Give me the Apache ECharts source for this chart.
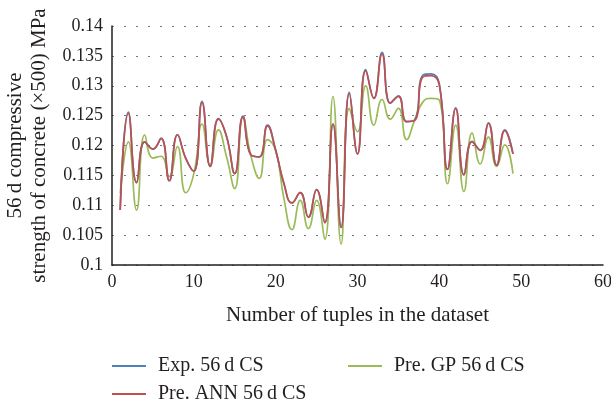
<!DOCTYPE html>
<html>
<head>
<meta charset="utf-8">
<script src="https://cdn.jsdelivr.net/npm/echarts@6/dist/echarts.min.js"></script>
<style>
  html, body { margin: 0; padding: 0; background: #fff; }
  #chart { width: 611px; height: 402px; }
</style>
</head>
<body>
<div id="chart"></div>
<script>
// tuple number (x) for every point
var tuples = [1, 2, 3, 4, 5, 6, 7, 8, 9, 10, 11, 12, 13, 14, 15, 16, 17, 18, 19, 20,
  21, 22, 23, 24, 25, 26, 27, 28, 29, 30, 31, 32, 33, 34, 35, 36, 37, 38, 39, 40,
  41, 42, 43, 44, 45, 46, 47, 48, 49];

// experimental 56 d CS
var expCS = [0.1092, 0.1256, 0.1138, 0.1206, 0.1194, 0.1212, 0.1141, 0.1218, 0.1179, 0.1157,
  0.1274, 0.1165, 0.1245, 0.1215, 0.1153, 0.1249, 0.1184, 0.1181, 0.1234, 0.1192,
  0.1137, 0.1104, 0.1121, 0.1080, 0.1126, 0.1071, 0.1236, 0.1063, 0.1289, 0.1186,
  0.1327, 0.1279, 0.1356, 0.1271, 0.1283, 0.1240, 0.1243, 0.1318, 0.1320, 0.1303,
  0.1160, 0.1263, 0.1151, 0.1207, 0.1192, 0.1238, 0.1167, 0.1226, 0.1186];

// ANN prediction
var annCS = [0.1092, 0.1254, 0.1138, 0.1206, 0.1194, 0.1212, 0.1141, 0.1218, 0.1179, 0.1157,
  0.1272, 0.1165, 0.1244, 0.1215, 0.1153, 0.1248, 0.1184, 0.1181, 0.1233, 0.1192,
  0.1137, 0.1104, 0.1121, 0.1080, 0.1126, 0.1071, 0.1236, 0.1063, 0.1287, 0.1186,
  0.1325, 0.1279, 0.1353, 0.1271, 0.1282, 0.1240, 0.1242, 0.1315, 0.1317, 0.1301,
  0.1160, 0.1262, 0.1151, 0.1206, 0.1192, 0.1237, 0.1167, 0.1225, 0.1186];

// GP prediction
var gpCS = [0.1120, 0.1206, 0.1092, 0.1218, 0.1179, 0.1182, 0.1148, 0.1198, 0.1121, 0.1153,
  0.1236, 0.1167, 0.1226, 0.1181, 0.1128, 0.1247, 0.1181, 0.1145, 0.1210, 0.1192,
  0.1112, 0.1059, 0.1108, 0.1061, 0.1108, 0.1043, 0.1282, 0.1035, 0.1262, 0.1223,
  0.1300, 0.1234, 0.1277, 0.1244, 0.1262, 0.1210, 0.1243, 0.1273, 0.1279, 0.1276,
  0.1136, 0.1234, 0.1123, 0.1221, 0.1169, 0.1214, 0.1165, 0.1201, 0.1153];

var yTicks = ['0.1', '0.105', '0.11', '0.115', '0.12', '0.125', '0.13', '0.135', '0.14'];

function pairs(vals) {
  return tuples.map(function (t, i) { return [t, vals[i]]; });
}

var font = '"Liberation Serif", "DejaVu Serif", serif';
var ink = '#231f20';
var chart = echarts.init(document.getElementById('chart'), null, { renderer: 'canvas' });

var lineSeries = function (name, vals, color, z) {
  return {
    name: name,
    type: 'line',
    data: pairs(vals),
    smooth: 0.5,
    showSymbol: false,
    symbol: 'none',
    z: z,
    lineStyle: { color: color, width: 1.7 },
    itemStyle: { color: color },
    animation: false
  };
};

// one legend box per entry, so the two columns line up like the original
var legendItem = function (name, left, top) {
  return {
    data: [name],
    left: left, top: top, padding: 0,
    icon: 'rect', itemWidth: 34, itemHeight: 2,
    textStyle: { fontFamily: font, fontSize: 20, color: ink, padding: [0, 0, 0, 7] }
  };
};

var option = {
  animation: false,
  textStyle: { fontFamily: font },
  grid: { left: 112, right: 8, top: 26, bottom: 137, containLabel: false, outerBoundsMode: 'none' },
  legend: [
    legendItem('Exp. 56\u2009d CS', 112, 356),
    legendItem('Pre. ANN 56\u2009d CS', 112, 384),
    legendItem('Pre. GP 56\u2009d CS', 348, 356)
  ],
  xAxis: {
    type: 'value',
    min: 0, max: 60, interval: 10,
    name: 'Number of tuples in the dataset',
    nameLocation: 'middle',
    nameGap: 40,
    nameTextStyle: { fontFamily: font, fontSize: 21, color: ink },
    axisLine: { lineStyle: { color: ink, width: 1.5 } },
    axisTick: { show: false },
    splitLine: { show: false },
    axisLabel: { fontFamily: font, fontSize: 18, color: ink, margin: 8 }
  },
  yAxis: {
    type: 'value',
    min: 0.1, max: 0.14, interval: 0.005,
    name: '56\u2009d compressive\nstrength of concrete (\u00d7500) MPa',
    nameLocation: 'middle',
    nameRotate: 90,
    nameGap: 53,
    nameTextStyle: { fontFamily: font, fontSize: 21, color: ink, lineHeight: 24 },
    axisLine: { show: true, lineStyle: { color: ink, width: 1.5 } },
    axisTick: { show: false },
    splitLine: { show: true, lineStyle: { color: '#777', type: [2, 10], width: 1 } },
    axisLabel: {
      fontFamily: font, fontSize: 18, color: ink, margin: 9,
      formatter: function (v) {
        return yTicks[Math.round((v - 0.1) / 0.005)];
      }
    }
  },
  series: [
    lineSeries('Pre. GP 56\u2009d CS', gpCS, '#9bbb59', 2),
    lineSeries('Exp. 56\u2009d CS', expCS, '#4f81bd', 3),
    lineSeries('Pre. ANN 56\u2009d CS', annCS, '#c0504d', 4)
  ]
};

option && chart.setOption(option);
</script>
</body>
</html>
